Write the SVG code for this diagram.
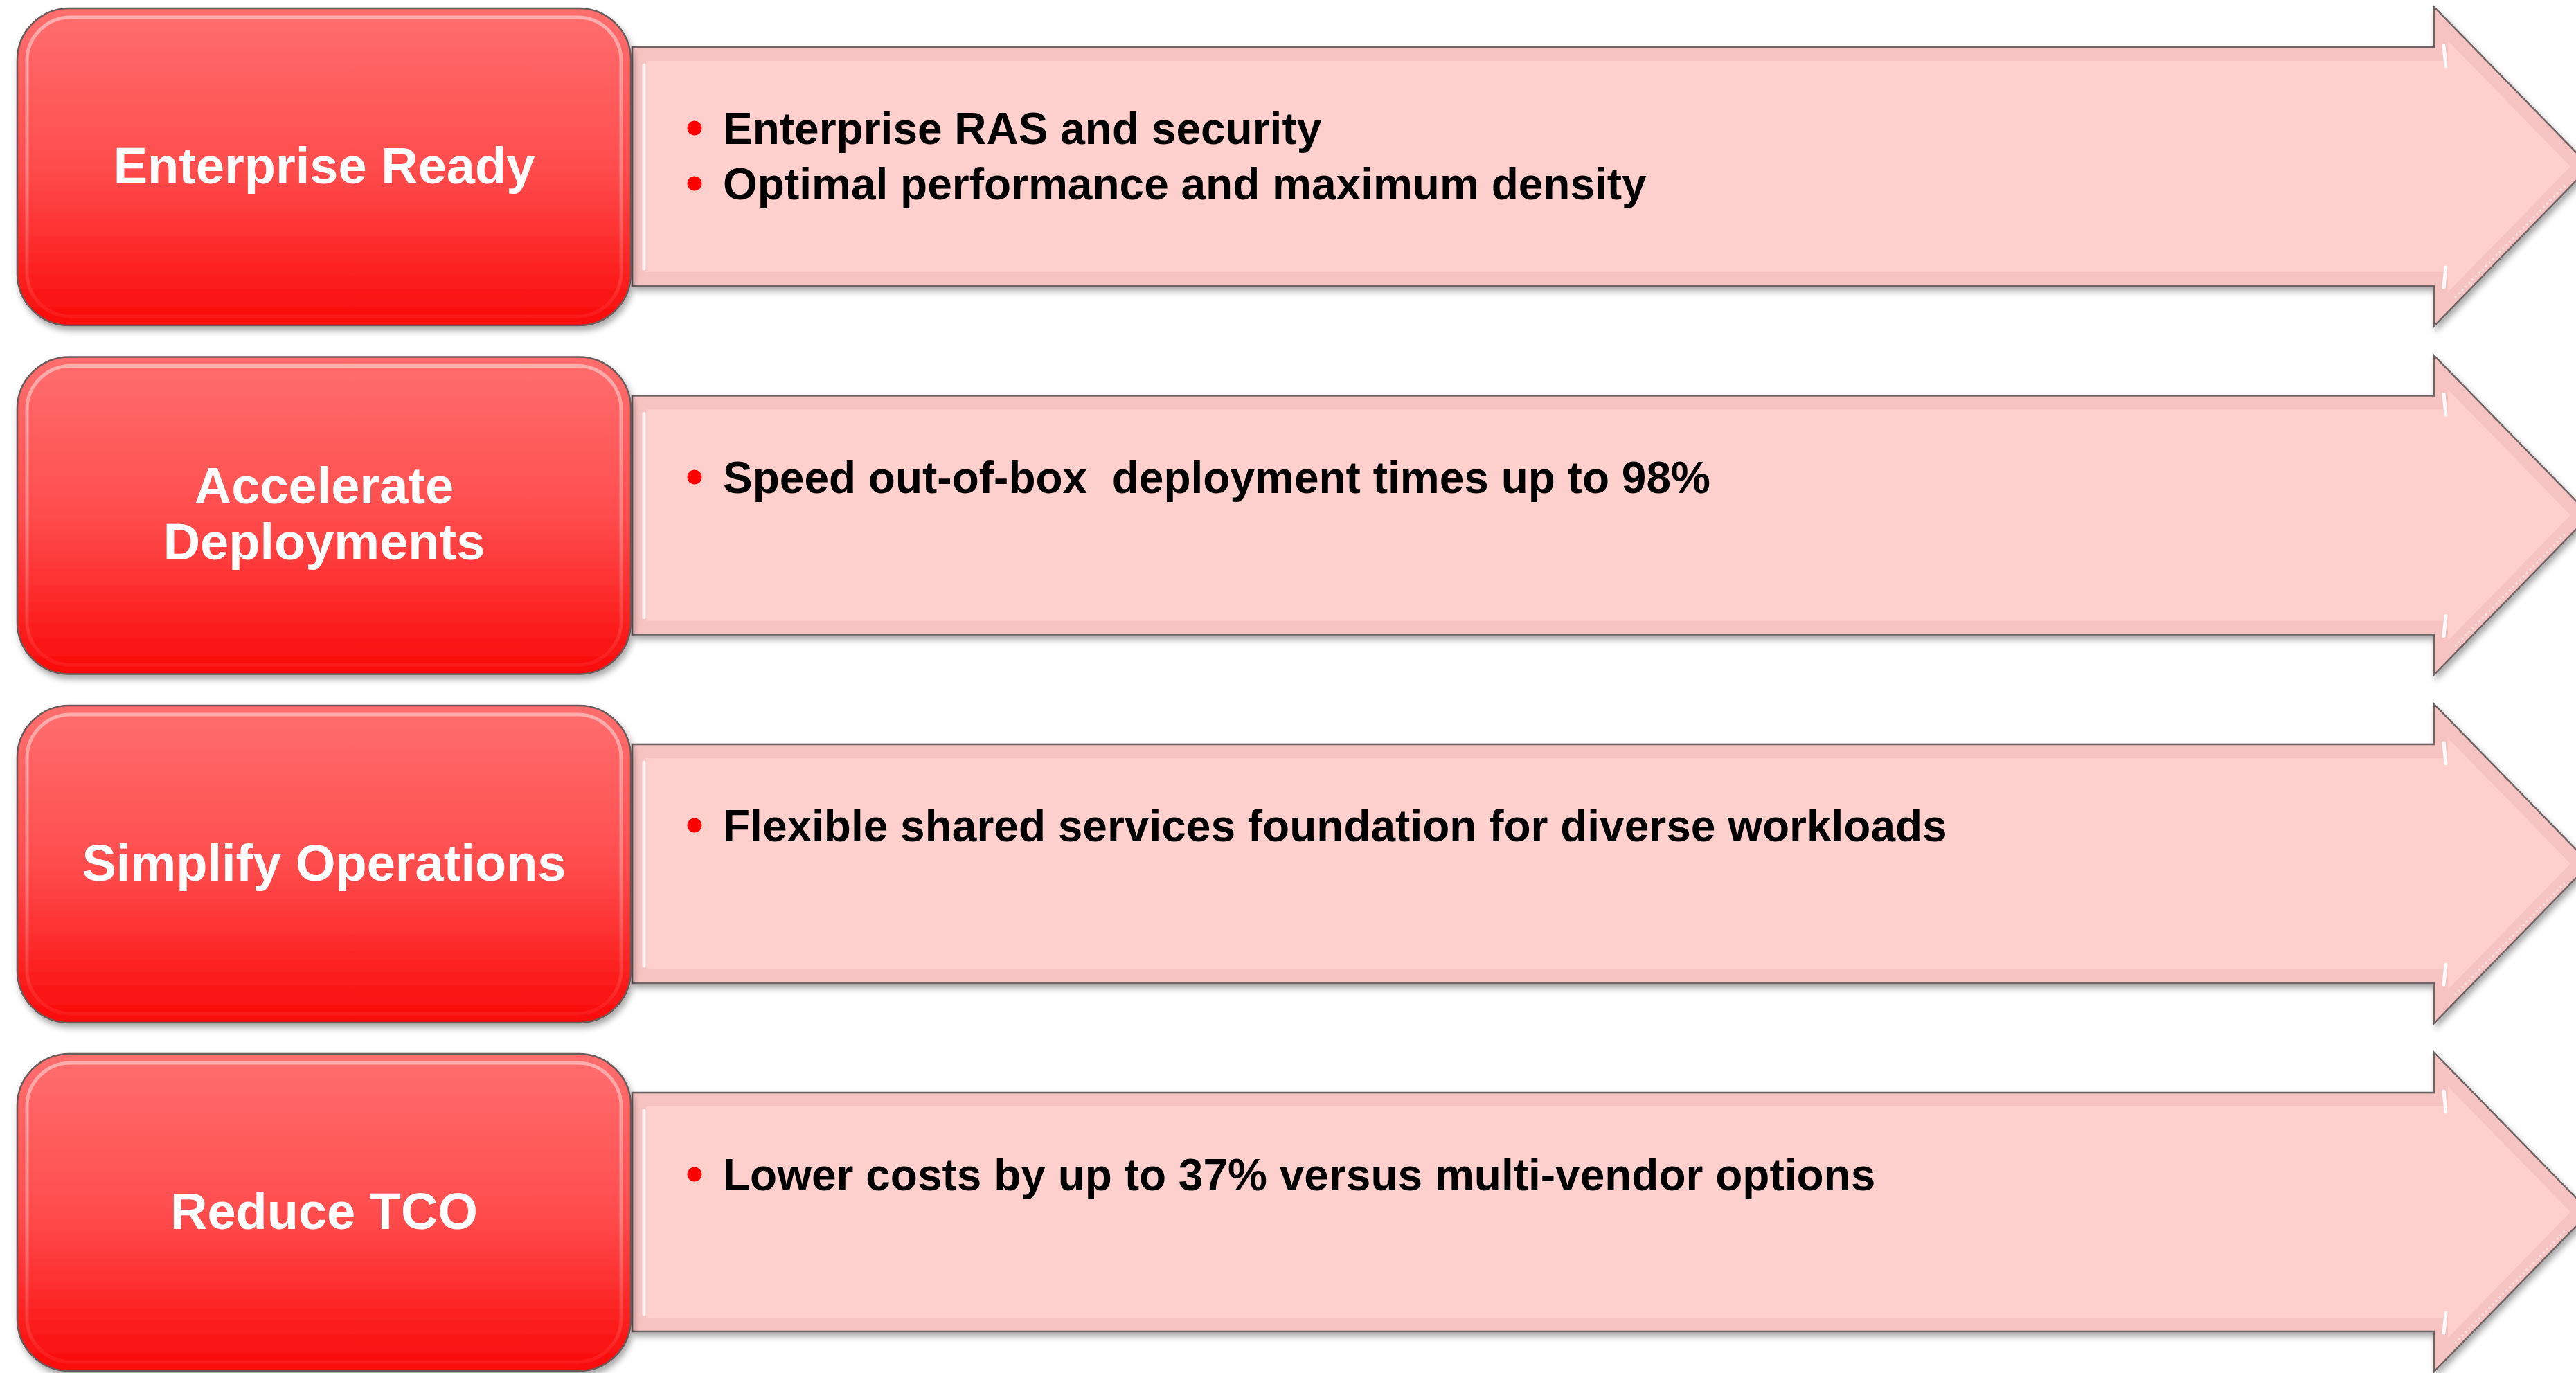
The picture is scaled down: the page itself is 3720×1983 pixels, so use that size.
<svg xmlns="http://www.w3.org/2000/svg" width="3720" height="1983" viewBox="0 0 3720 1983">
<defs>
  <linearGradient id="boxGrad" x1="0" y1="0" x2="0" y2="1">
    <stop offset="0" stop-color="#FF6E6E"/>
    <stop offset="0.5" stop-color="#FF4D4D"/>
    <stop offset="1" stop-color="#FA0A0A"/>
  </linearGradient>
  <linearGradient id="hlGrad" x1="0" y1="0" x2="0" y2="1">
    <stop offset="0" stop-color="#FFFFFF" stop-opacity="0.45"/>
    <stop offset="0.6" stop-color="#FFFFFF" stop-opacity="0.25"/>
    <stop offset="1" stop-color="#FFFFFF" stop-opacity="0.05"/>
  </linearGradient>
  <filter id="shadow" x="-5%" y="-10%" width="110%" height="125%">
    <feDropShadow dx="3" dy="6" stdDeviation="5" flood-color="#000" flood-opacity="0.35"/>
  </filter>
  <path id="arrowOuter" d="M913,56 L3515,56 L3515,-2 L3740,228.5 L3515,459 L3515,401 L913,401 Z"/>
  <path id="arrowInner" d="M933,76 L3535,76 L3535,47 L3712,228.5 L3535,410 L3535,381 L933,381 Z"/>
  <g id="arrowShape">
    <use href="#arrowOuter" class="arrow-outer"/>
    <use href="#arrowInner" class="arrow-inner"/>
    <line x1="930" y1="82" x2="930" y2="376" class="hl"/>
    <line x1="3529" y1="54" x2="3532" y2="84" class="hl2"/>
    <line x1="3529" y1="403" x2="3532" y2="374" class="hl2"/>
    <line x1="3545" y1="418" x2="3705" y2="255" class="hl3"/>
  </g>
  <g id="boxShape">
    <rect x="25" y="0" width="886" height="458" rx="75" ry="75" class="box"/>
    <rect x="39" y="13" width="858" height="432" rx="63" ry="63" class="box-hl"/>
  </g>
</defs>
<style>
  .arrow-outer { fill: #F5C3C2; stroke: #6E6262; stroke-width: 2.5; }
  .arrow-inner { fill: #FDCFCD; stroke: none; }
  .hl { stroke: #FFFFFF; stroke-width: 5; stroke-opacity: 0.85; stroke-linecap: round; }
  .hl2 { stroke: #FFFFFF; stroke-width: 5; stroke-opacity: 0.9; stroke-linecap: round; }
  .hl3 { stroke: #FFFFFF; stroke-width: 3; stroke-opacity: 0.5; stroke-dasharray: 3 4; }
  .box { fill: url(#boxGrad); stroke: #6A5A5A; stroke-width: 2.5; }
  .box-hl { fill: none; stroke: url(#hlGrad); stroke-width: 5; }
  .label { font-family: "Liberation Sans", Arial, sans-serif; font-weight: bold; font-size: 74px; fill: #FFFFFF; text-anchor: middle; }
  .item { font-family: "Liberation Sans", Arial, sans-serif; font-weight: bold; font-size: 64px; fill: #000000; white-space: pre; }
  .bullet { fill: #FF0000; }
</style>
<rect x="0" y="0" width="3720" height="1983" fill="#FFFFFF"/>

<g id="connectors">
  <use href="#arrowShape" transform="translate(0,12)" filter="url(#shadow)"/>
  <use href="#arrowShape" transform="translate(0,515.5)" filter="url(#shadow)"/>
  <use href="#arrowShape" transform="translate(0,1019)" filter="url(#shadow)"/>
  <use href="#arrowShape" transform="translate(0,1522)" filter="url(#shadow)"/>
</g>

<g id="node-enterprise-ready">
  <use href="#boxShape" transform="translate(0,12)" filter="url(#shadow)"/>
  <text class="label" x="468" y="265">Enterprise Ready</text>
  <circle class="bullet" cx="1003" cy="185" r="10.5"/>
  <text class="item" x="1044" y="208">Enterprise RAS and security</text>
  <circle class="bullet" cx="1003" cy="265" r="10.5"/>
  <text class="item" x="1044" y="288">Optimal performance and maximum density</text>
</g>

<g id="node-accelerate-deployments">
  <use href="#boxShape" transform="translate(0,515.5)" filter="url(#shadow)"/>
  <text class="label" x="468" y="727">Accelerate</text>
  <text class="label" x="468" y="808">Deployments</text>
  <circle class="bullet" cx="1003" cy="689" r="10.5"/>
  <text class="item" x="1044" y="712" xml:space="preserve">Speed out-of-box  deployment times up to 98%</text>
</g>

<g id="node-simplify-operations">
  <use href="#boxShape" transform="translate(0,1019)" filter="url(#shadow)"/>
  <text class="label" x="468" y="1272">Simplify Operations</text>
  <circle class="bullet" cx="1003" cy="1192" r="10.5"/>
  <text class="item" x="1044" y="1215">Flexible shared services foundation for diverse workloads</text>
</g>

<g id="node-reduce-tco">
  <use href="#boxShape" transform="translate(0,1522)" filter="url(#shadow)"/>
  <text class="label" x="468" y="1775">Reduce TCO</text>
  <circle class="bullet" cx="1003" cy="1696" r="10.5"/>
  <text class="item" x="1044" y="1719">Lower costs by up to 37% versus multi-vendor options</text>
</g>
</svg>
